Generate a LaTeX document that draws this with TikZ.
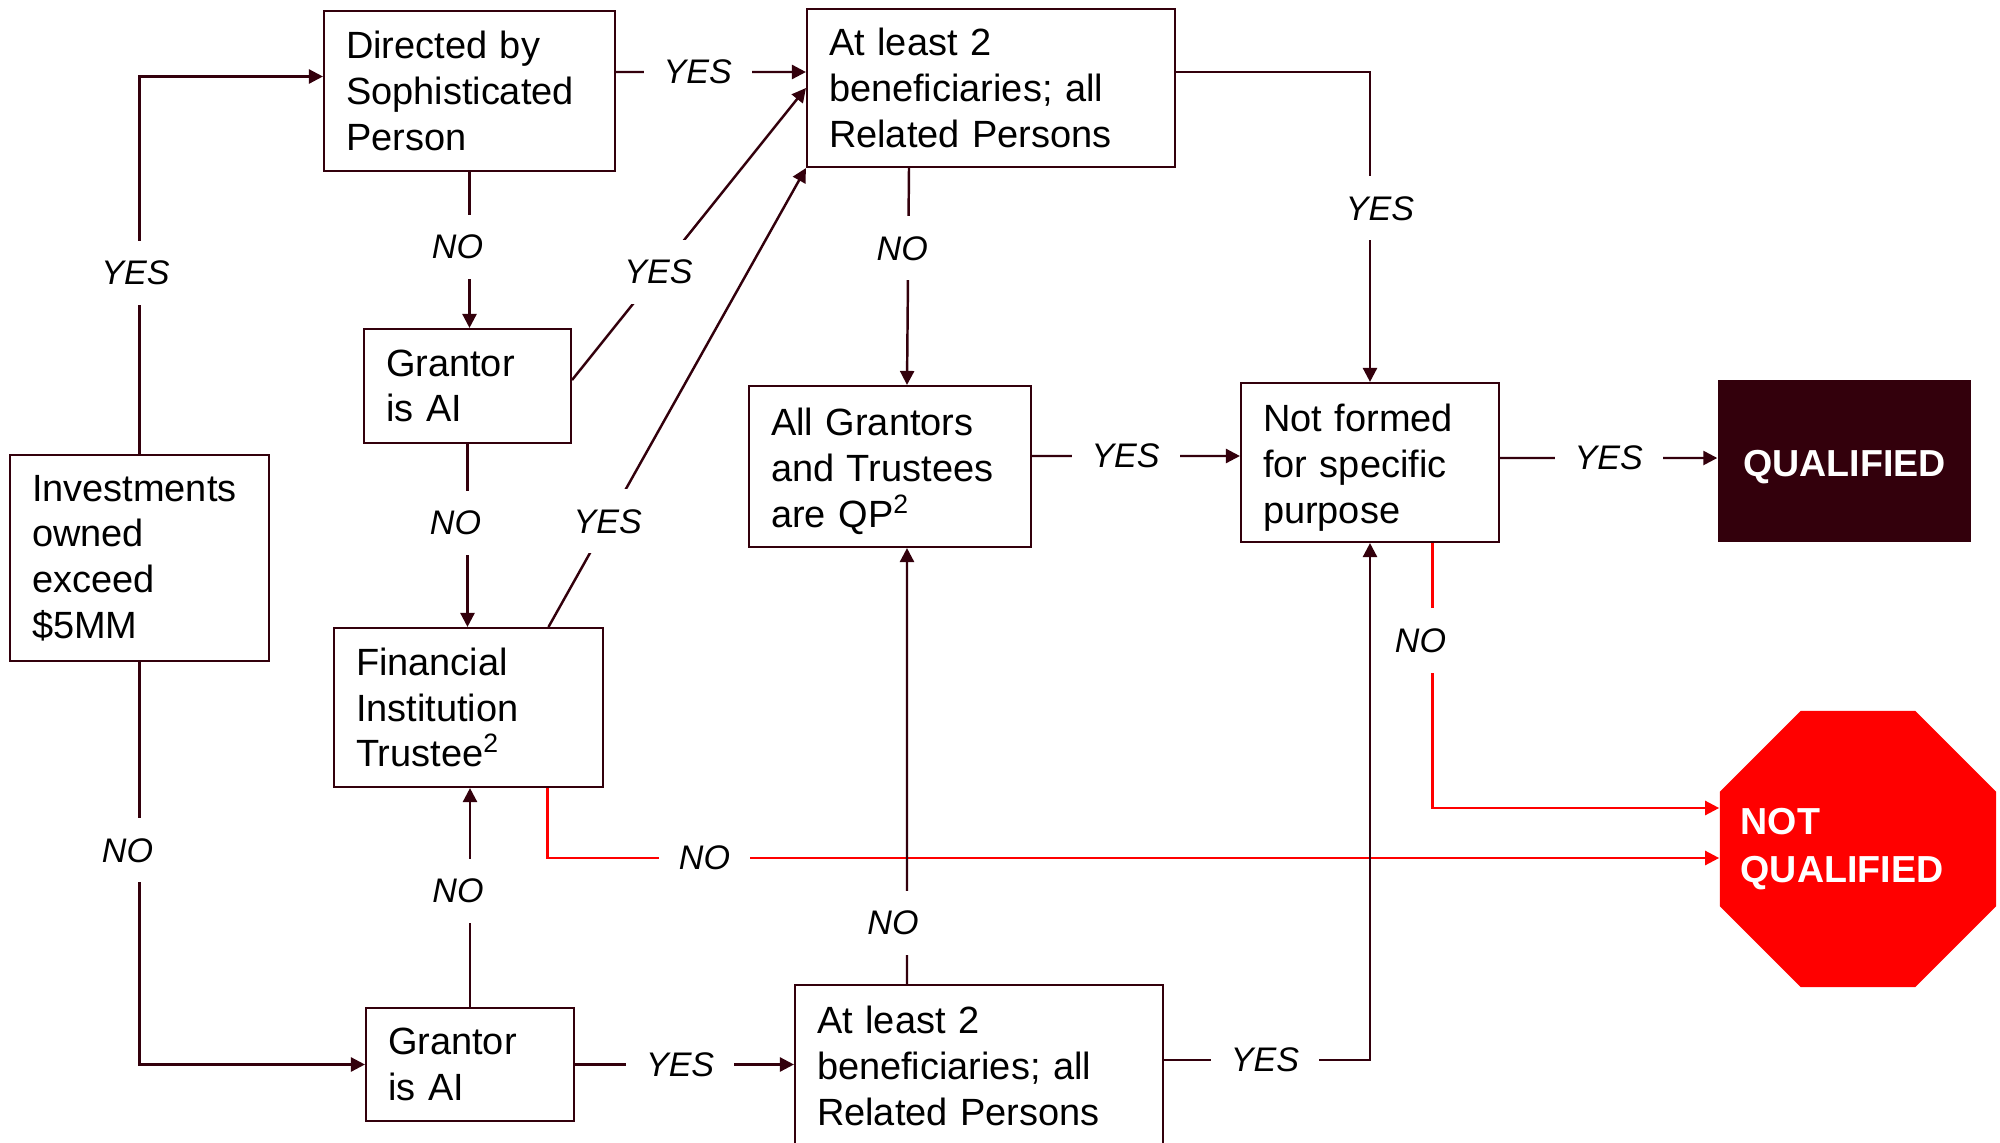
\documentclass[tikz,border=0pt]{standalone}
\usepackage{fontspec}
\setmainfont{Liberation Sans}
\usetikzlibrary{arrows.meta, positioning, shapes.geometric}
\definecolor{qualDark}{HTML}{33000C}
\definecolor{qualRed}{HTML}{FF0000}

\begin{document}
\begin{tikzpicture}[
    qbox/.style={rectangle, draw=qualDark, line width=0.6pt, fill=white,
                 align=left, inner xsep=0.22cm, inner ysep=0pt,
                 font=\fontsize{10.8}{13}\selectfont},
    qualbox/.style={rectangle, fill=qualDark, text=white,
                 minimum width=2.53cm, minimum height=1.62cm,
                 text height=9pt, text depth=0pt,
                 font=\fontsize{10.7}{13}\selectfont\bfseries},
    stopsign/.style={regular polygon, regular polygon sides=8, minimum size=2.99cm,
                 inner sep=0pt, fill=qualRed},
    stoptext/.style={text=white, align=left, inner sep=0pt,
                 font=\fontsize{10.7}{13.5}\selectfont\bfseries},
    lbl/.style={fill=white, inner sep=0.2cm, text=black,
                font=\fontsize{9.7}{11}\selectfont\itshape},
    arr/.style={draw=qualDark, line width=0.7pt, -{Triangle[length=1.4mm, width=1.4mm]}},
    redarr/.style={arr, draw=qualRed},
  ]
    \useasboundingbox (0,0) rectangle (20,-11.43);
    \clip (0,0) rectangle (20,-11.43);

    \node[qbox, text width=2.15cm, minimum height=2.06cm] (inv) at (1.395,-5.58) {Investments\\owned\\exceed\\\$5MM};
    \node[qbox, text width=2.47cm, minimum height=1.60cm] (dir) at (4.695,-0.91) {Directed by\\Sophisticated\\Person};
    \node[qbox, text width=1.63cm, minimum height=1.14cm] (gai1) at (4.675,-3.86) {Grantor\\is AI};
    \node[qbox, text width=2.25cm, minimum height=1.59cm] (fit) at (4.685,-7.075) {Financial\\Institution\\Trustee\textsuperscript{2}};
    \node[qbox, text width=1.64cm, minimum height=1.13cm] (gai2) at (4.70,-10.645) {Grantor\\is AI};
    \node[qbox, text width=3.24cm, minimum height=1.58cm] (two1) at (9.91,-0.88) {At least 2\\beneficiaries; all\\Related Persons};
    \node[qbox, text width=2.38cm, minimum height=1.61cm] (allqp) at (8.90,-4.665) {All Grantors\\and Trustees\\are QP\textsuperscript{2}\vspace{-1mm}};
    \node[qbox, text width=3.24cm, minimum height=1.62cm] (two2) at (9.79,-10.66) {At least 2\\beneficiaries; all\\Related Persons};
    \node[qbox, text width=2.14cm, minimum height=1.59cm] (nfs) at (13.70,-4.625) {Not formed\\for specific\\purpose\vspace{-1mm}};
    \node[qualbox] (qual) at (18.445,-4.61) {QUALIFIED};
    \node[stopsign] (nq) at (18.58,-8.49) {};
    \node[stoptext] (nqtext) at ([xshift=-1.6mm]nq.center) {NOT\\QUALIFIED};

    \draw[arr] (inv.north) |- ([yshift=1.45mm]dir.west) node[lbl, pos=0.24, xshift=-0.4mm] {YES};
    \draw[arr] (inv.south) |- (gai2.west) node[lbl, pos=0.234, xshift=-1.2mm] {NO};
    \draw[arr] ([yshift=1.9mm]dir.east) -- ([yshift=1.6mm]two1.west) node[lbl, pos=0.43] {YES};
    \draw[arr] (dir.south) -- (dir.south |- gai1.north) node[lbl, pos=0.48, xshift=-1.2mm] {NO};
    \draw[arr] ([yshift=0.6mm]gai1.east) -- (two1.west) node[lbl, pos=0.37] {YES};
    \draw[arr] (gai1.south) -- (gai1.south |- fit.north) node[lbl, pos=0.43, xshift=-1.2mm] {NO};
    \draw[arr] ([xshift=8mm]fit.north) -- (two1.south west) node[lbl, pos=0.23] {YES};
    \draw[arr] (gai2.north) -- (gai2.north |- fit.south) node[lbl, pos=0.53, xshift=-1.2mm] {NO};
    \draw[redarr] ([xshift=7.9mm]fit.south) |- ([yshift=-0.9mm]nq.west) node[lbl, pos=0.567] {NO};
    \draw[arr] ([xshift=-8.2mm]two1.south) -- ([xshift=1.7mm]allqp.north) node[lbl, pos=0.37, xshift=-0.6mm] {NO};
    \draw[arr] ([yshift=1.6mm]two1.east) -| (nfs.north) node[lbl, pos=0.72, xshift=1mm] {YES};
    \draw[arr] ([yshift=1.05mm]allqp.east) -- ([yshift=0.65mm]nfs.west) node[lbl, pos=0.45] {YES};
    \draw[arr] ([yshift=0.45mm]nfs.east) -- ([yshift=0.3mm]qual.west) node[lbl, pos=0.5] {YES};
    \draw[redarr] ([xshift=6.25mm]nfs.south) |- ([yshift=4.1mm]nq.west) node[lbl, pos=0.184, xshift=-1.2mm] {NO};
    \draw[arr] ([xshift=-7.2mm]two2.north) -- ([xshift=1.7mm]allqp.south) node[lbl, pos=0.14, xshift=-1.4mm] {NO};
    \draw[arr] (gai2.east) -- (gai2.east -| two2.west) node[lbl, pos=0.48] {YES};
    \draw[arr] ([yshift=0.6mm]two2.east) -| (nfs.south) node[lbl, pos=0.245] {YES};
  \end{tikzpicture}
\end{document}
